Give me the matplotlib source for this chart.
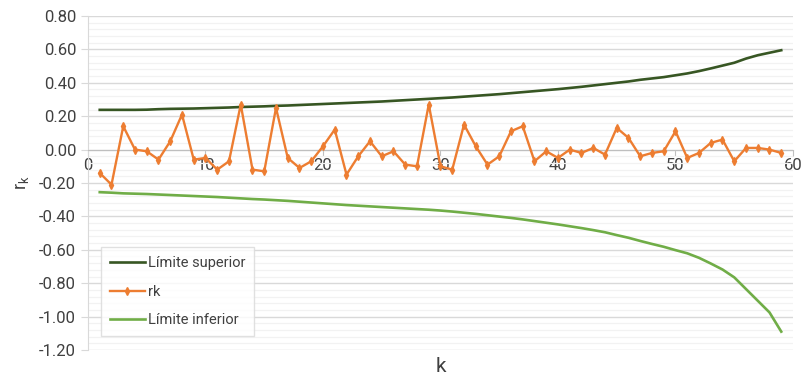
import numpy as np
import matplotlib
matplotlib.use("Agg")
import matplotlib.pyplot as plt
from matplotlib.ticker import MultipleLocator, FormatStrFormatter

# lags
k = list(range(1, 60))

# autocorrelations
rk = [-0.14, -0.21, 0.14, 0.00, -0.01, -0.06, 0.05, 0.21, -0.06, -0.05,
      -0.12, -0.07, 0.27, -0.12, -0.13, 0.25, -0.05, -0.11, -0.07, 0.02,
      0.12, -0.15, -0.04, 0.05, -0.04, -0.01, -0.09, -0.10, 0.27, -0.10,
      -0.12, 0.15, 0.02, -0.09, -0.04, 0.11, 0.14, -0.07, -0.01, -0.05,
      0.00, -0.02, 0.01, -0.03, 0.13, 0.07, -0.04, -0.02, -0.01, 0.11,
      -0.05, -0.02, 0.04, 0.06, -0.07, 0.01, 0.01, 0.00, -0.02]

upper = [0.238, 0.238, 0.238, 0.238, 0.239, 0.242, 0.244, 0.245, 0.246, 0.248,
         0.250, 0.252, 0.255, 0.257, 0.259, 0.262, 0.264, 0.267, 0.270, 0.273,
         0.276, 0.279, 0.282, 0.285, 0.288, 0.292, 0.296, 0.300, 0.304, 0.308,
         0.312, 0.317, 0.322, 0.327, 0.332, 0.338, 0.344, 0.350, 0.356, 0.362,
         0.369, 0.376, 0.384, 0.392, 0.400, 0.408, 0.418, 0.426, 0.434, 0.445,
         0.456, 0.470, 0.486, 0.503, 0.520, 0.545, 0.565, 0.580, 0.595]

lower = [-0.255, -0.258, -0.262, -0.264, -0.266, -0.269, -0.272, -0.275, -0.278, -0.281,
         -0.284, -0.288, -0.292, -0.296, -0.299, -0.303, -0.307, -0.312, -0.317, -0.322,
         -0.327, -0.332, -0.336, -0.340, -0.344, -0.348, -0.352, -0.356, -0.360, -0.365,
         -0.371, -0.378, -0.385, -0.393, -0.401, -0.409, -0.418, -0.428, -0.438, -0.448,
         -0.459, -0.470, -0.482, -0.495, -0.512, -0.528, -0.547, -0.565, -0.582, -0.602,
         -0.621, -0.648, -0.682, -0.718, -0.765, -0.835, -0.905, -0.975, -1.09]

plt.rcParams['font.family'] = ['Roboto', 'DejaVu Sans']

fig = plt.figure(figsize=(8.03, 3.80), dpi=100)
ax = fig.add_axes([88 / 803, 30 / 380, 705 / 803, 334 / 380])

ax.plot(k, upper, color='#375623', lw=1.9, label='Límite superior', zorder=3)
ax.plot(k, rk, color='#ED7D31', lw=1.7, marker='d', markersize=4, label='rk', zorder=4)
ax.plot(k, lower, color='#70AD47', lw=1.9, label='Límite inferior', zorder=3)

ax.set_xlim(0, 60)
ax.set_ylim(-1.2, 0.8)
ax.xaxis.set_major_locator(MultipleLocator(10))
ax.yaxis.set_major_locator(MultipleLocator(0.2))
ax.yaxis.set_minor_locator(MultipleLocator(0.04))
ax.yaxis.set_major_formatter(FormatStrFormatter('%.2f'))

ax.grid(axis='y', which='major', color='#d9d9d9', lw=1.0, zorder=0)
ax.grid(axis='y', which='minor', color='#f2f2f2', lw=0.9, zorder=0)
ax.set_axisbelow(True)

for s in ['top', 'right']:
    ax.spines[s].set_visible(False)
ax.spines['bottom'].set_position(('data', 0))
ax.spines['bottom'].set_color('#bfbfbf')
ax.spines['left'].set_color('#d9d9d9')
ax.tick_params(axis='x', colors='#bfbfbf', labelcolor='#404040', labelsize=12, length=4, pad=2)
ax.tick_params(axis='y', which='major', colors='#d9d9d9', labelcolor='#404040', labelsize=12, length=5)
ax.tick_params(axis='y', which='minor', length=0)

ax.set_xlabel('k', fontsize=15, color='#404040')
ax.xaxis.set_label_coords(0.50, -0.02)
ax.set_ylabel('r$_\\mathregular{k}$', fontsize=13, color='#404040', labelpad=6)

leg = ax.legend(loc='lower left', bbox_to_anchor=(0.008, 0.02), fontsize=10.5,
                frameon=True, fancybox=False, handlelength=2.4, handletextpad=0.2,
                labelspacing=1.0, borderpad=0.6)
leg.get_frame().set_edgecolor('#d9d9d9')
leg.get_frame().set_linewidth(1.0)
for t in leg.get_texts():
    t.set_color('#404040')

fig.savefig('out.png', dpi=100)
